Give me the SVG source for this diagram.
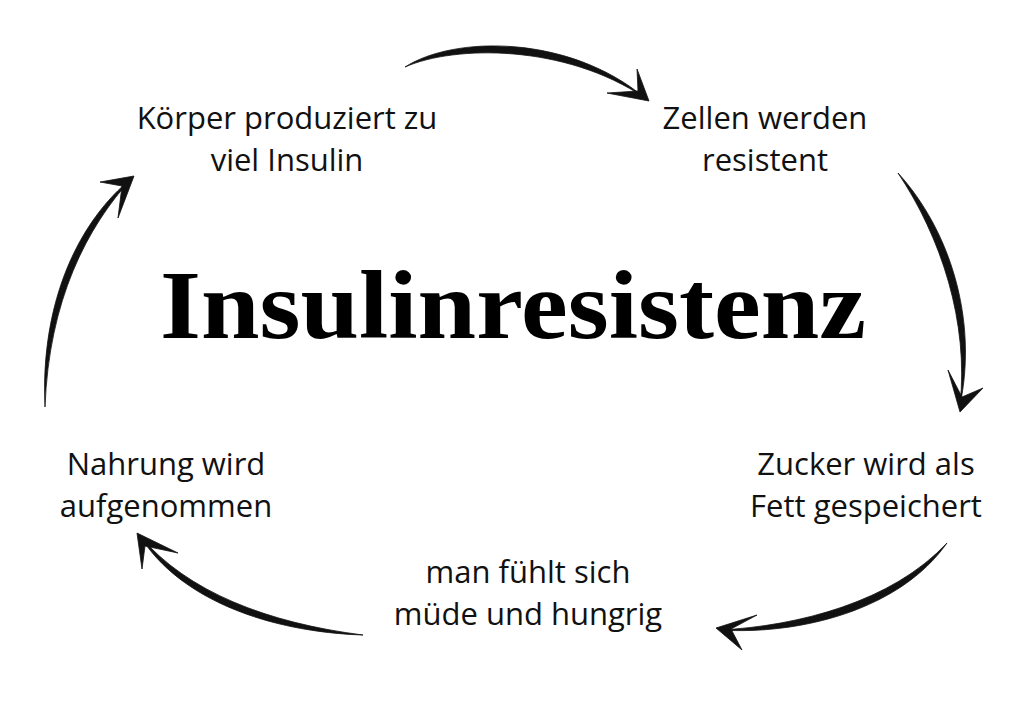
<svg xmlns="http://www.w3.org/2000/svg" width="1024" height="726" viewBox="0 0 1024 726">
<style>
.lbl{font-family:"Open Sans","Liberation Sans",sans-serif;font-size:31px;fill:#111;text-anchor:middle}
.title{font-family:"Liberation Serif","DejaVu Serif",serif;font-weight:bold;font-size:98px;fill:#000}
.arr{fill:#111;stroke:#111;stroke-width:0.8;stroke-linejoin:round}
</style>
<rect width="1024" height="726" fill="#fff"/>
<g id="title"><text class="title" x="160" y="338" textLength="706" lengthAdjust="spacingAndGlyphs">Insulinresistenz</text></g>
<g id="n1"><text class="lbl" x="287" y="129">Körper produziert zu</text><text class="lbl" x="287" y="171">viel Insulin</text></g>
<g id="n2"><text class="lbl" x="765" y="129">Zellen werden</text><text class="lbl" x="765" y="171">resistent</text></g>
<g id="n3"><text class="lbl" x="866" y="475">Zucker wird als</text><text class="lbl" x="866" y="517">Fett gespeichert</text></g>
<g id="n4"><text class="lbl" x="528" y="583">man fühlt sich</text><text class="lbl" x="528" y="625">müde und hungrig</text></g>
<g id="n5"><text class="lbl" x="166" y="475">Nahrung wird</text><text class="lbl" x="166" y="517">aufgenommen</text></g>
<g id="connectors">
<path class="arr" d="M405,67 C455,35 570,35 645,98 C565,44 455,45 405,67 Z"/>
<path class="arr" d="M649,101 L637,69 L638,91 L607,93 Z"/>
<path class="arr" d="M898,173 C950,230 978,320 960,405 C969,322 941,237 898,173 Z"/>
<path class="arr" d="M960,412 L948,370 L962,397 L983,388 Z"/>
<path class="arr" d="M947,543 C900,610 800,635 720,630 C798,626 892,602 947,543 Z"/>
<path class="arr" d="M716,628 L757,615 L731,629 L742,650 Z"/>
<path class="arr" d="M363,635 C270,632 180,600 140,536 C187,592 268,623 363,635 Z"/>
<path class="arr" d="M137,533 L178,553 L145,546 L142,569 Z"/>
<path class="arr" d="M45,407 C40,300 80,220 132,178 C87,227 49,300 45,407 Z"/>
<path class="arr" d="M134,176 L100,182 L122,186 L118,218 Z"/>
</g>
</svg>
